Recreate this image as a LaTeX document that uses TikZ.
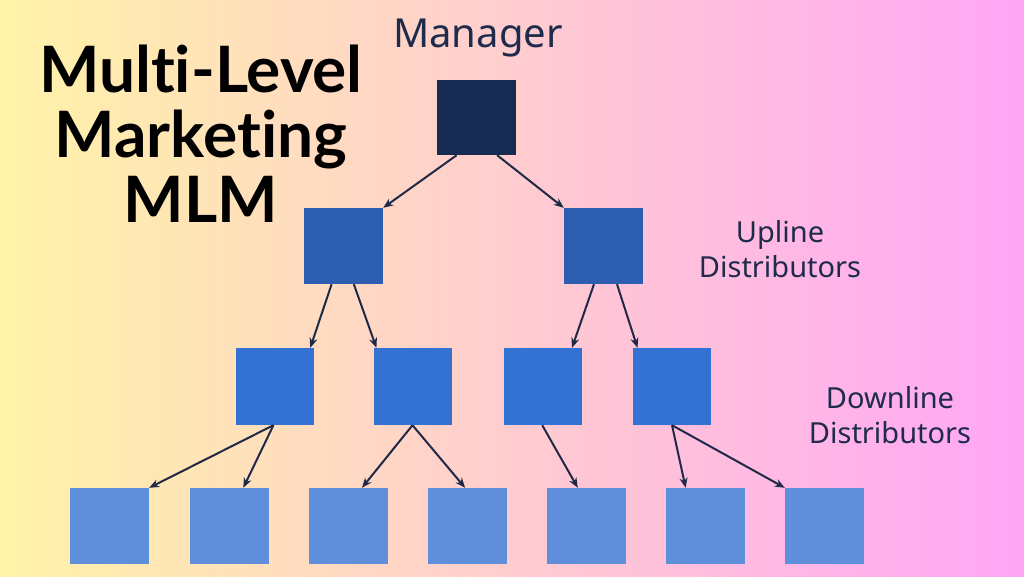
\documentclass[tikz,border=0pt]{standalone}
\usepackage{fontspec}
\setmainfont{Noto Sans}
\newfontfamily\titlefont[Ligatures=NoCommon]{Lato}
\usetikzlibrary{calc,arrows.meta}
\definecolor{bgL}{HTML}{FFF3A8}
\definecolor{bgM}{HTML}{FFC9C6}
\definecolor{bgR}{HTML}{FFA6F6}
\definecolor{navy}{HTML}{152B52}
\definecolor{lvtwo}{HTML}{2C5DB0}
\definecolor{lvthree}{HTML}{3371D2}
\definecolor{lvfour}{HTML}{5F8FDA}
\definecolor{arr}{HTML}{1E2A48}
\definecolor{lbl}{HTML}{1F2B4C}
\tikzset{
  box/.style={rectangle, inner sep=0pt, minimum width=79pt, minimum height=76pt},
  link/.style={draw=arr, line width=2pt, -{Stealth[length=10pt,width=8pt]}},
  lab/.style={text=lbl, font=\fontsize{29}{35}\selectfont, align=center, inner sep=0pt}
}
\begin{document}
\begin{tikzpicture}[x=1pt,y=-1pt]
\useasboundingbox (0,0) rectangle (1024,576);
\fill[left color=bgL, middle color=bgM, right color=bgR] (0,0) rectangle (1024,576);

% title
\node[font=\titlefont\bfseries\fontsize{64}{65}\selectfont, align=center, anchor=base, inner sep=0pt] (title) at (201,222) {Multi-Level\\Marketing\\MLM};

% labels
\node[lab, font=\fontsize{40}{40}\selectfont, anchor=base] (mgr) at (478,47) {Manager};
\node[lab, anchor=base] (up) at (780,277) {Upline\\Distributors};
\node[lab, anchor=base] (down) at (890,443) {Downline\\Distributors};

% boxes
\node[box, fill=navy, minimum height=75pt] (m) at (476.5,117.5) {};
\node[box, fill=lvtwo] (a) at (343.5,246) {};
\node[box, fill=lvtwo] (b) at (603.5,246) {};
\node[box, fill=lvthree, minimum width=78pt, minimum height=77pt] (c1) at (275,386.5) {};
\node[box, fill=lvthree, minimum width=78pt, minimum height=77pt] (c2) at (412.5,386.5) {};
\node[box, fill=lvthree, minimum width=78pt, minimum height=77pt] (c3) at (543,386.5) {};
\node[box, fill=lvthree, minimum width=78pt, minimum height=77pt] (c4) at (672,386.5) {};
\node[box, fill=lvfour] (d1) at (109.5,526) {};
\node[box, fill=lvfour] (d2) at (229,526) {};
\node[box, fill=lvfour] (d3) at (348.5,526) {};
\node[box, fill=lvfour] (d4) at (467.5,526) {};
\node[box, fill=lvfour] (d5) at (586.5,526) {};
\node[box, fill=lvfour] (d6) at (705.5,526) {};
\node[box, fill=lvfour] (d7) at (824.5,526) {};

% connectors
\draw[link] ($(m.south west)!0.25!(m.south east)$) -- (a.north east);
\draw[link] ($(m.south west)!0.76!(m.south east)$) -- (b.north west);
\draw[link] ($(a.south west)!0.35!(a.south east)$) -- ($(c1.north west)!0.95!(c1.north east)$);
\draw[link] ($(a.south west)!0.63!(a.south east)$) -- ($(c2.north west)!0.04!(c2.north east)$);
\draw[link] ($(b.south west)!0.38!(b.south east)$) -- ($(c3.north west)!0.87!(c3.north east)$);
\draw[link] ($(b.south west)!0.67!(b.south east)$) -- ($(c4.north west)!0.06!(c4.north east)$);
\draw[link] ($(c1.south west)!0.48!(c1.south east)$) -- (d1.north east);
\draw[link] ($(c1.south west)!0.48!(c1.south east)$) -- ($(d2.north west)!0.68!(d2.north east)$);
\draw[link] ($(c2.south west)!0.5!(c2.south east)$) -- ($(d3.north west)!0.67!(d3.north east)$);
\draw[link] ($(c2.south west)!0.5!(c2.south east)$) -- ($(d4.north west)!0.47!(d4.north east)$);
\draw[link] ($(c3.south west)!0.49!(c3.south east)$) -- ($(d5.north west)!0.39!(d5.north east)$);
\draw[link] ($(c4.south west)!0.5!(c4.south east)$) -- ($(d6.north west)!0.25!(d6.north east)$);
\draw[link] ($(c4.south west)!0.5!(c4.south east)$) -- (d7.north west);
\end{tikzpicture}
\end{document}
